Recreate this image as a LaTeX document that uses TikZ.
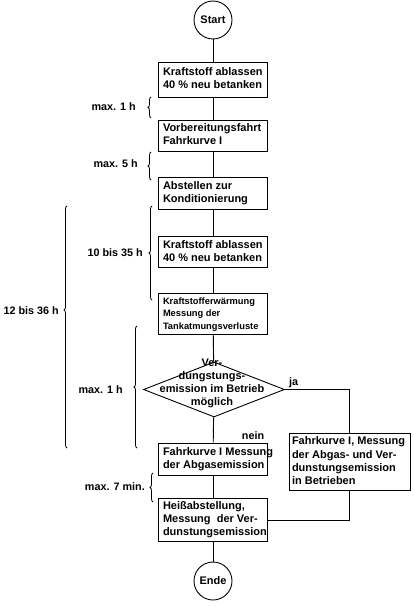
\documentclass[tikz,border=0pt]{standalone}
\usepackage{fontspec}
\setmainfont{Liberation Sans}
\usetikzlibrary{shapes.geometric,decorations.pathreplacing}
\newcommand{\boxlines}[2][100pt]{\makebox[#1][l]{\begin{tabular}{@{}l@{}}#2\end{tabular}}}
\begin{document}
\begin{tikzpicture}[x=1pt,y=-1pt,
  every node/.style={font=\bfseries\fontsize{10.8}{13}\selectfont},
  boxfont/.style={font=\bfseries\fontsize{11}{13.2}\selectfont},
  box/.style={draw, line width=0.9pt, rectangle, inner xsep=4.5pt, inner ysep=2pt, boxfont},
  term/.style={draw, line width=0.9pt, circle, minimum size=38pt, inner sep=0pt, boxfont},
  conn/.style={line width=0.9pt},
  lbl/.style={anchor=east, inner sep=0pt},
  brc/.style={decorate, decoration={brace, amplitude=3pt}, line width=0.8pt}]
\useasboundingbox (0,0) rectangle (413,607);
% main column
\node[term] (start) at (213,20) {Start};
\node[box, minimum height=35pt] (b1) at (213,79.5) {\boxlines{Kraftstoff ablassen\\40 \% neu betanken}};
\node[box, minimum height=31pt] (b2) at (213,135.5) {\boxlines{Vorbereitungsfahrt\\Fahrkurve I}};
\node[box, minimum height=32pt] (b3) at (213,193) {\boxlines{Abstellen zur\\Konditionierung}};
\node[box, minimum height=30pt] (b4) at (213,252) {\boxlines{Kraftstoff ablassen\\40 \% neu betanken}};
\node[box, minimum height=40pt, font=\bfseries\fontsize{9.3}{12.5}\selectfont] (b5) at (213,314) {\boxlines{Kraftstofferwärmung\\Messung der\\Tankatmungsverluste}};
\node[draw, diamond, line width=0.9pt, minimum width=141pt, minimum height=55pt, inner sep=0pt] (d) at (214,389.5) {};
\node[align=center, inner sep=0pt, font=\bfseries\fontsize{11}{13}\selectfont] (dt) at (212,383.5) {Ver-\\dungstungs-\\emission im Betrieb\\möglich};
\node[box, minimum height=32pt] (f1) at (213,459) {\boxlines{Fahrkurve I Messung\\der Abgasemission}};
\node[box, minimum height=40pt] (b6) at (213,520) {\boxlines{Heißabstellung,\\Messung\ \ der Ver-\\dunstungsemission}};
\node[term] (ende) at (213,581) {Ende};
\node[box, inner xsep=3pt, minimum height=56pt] (r) at (349.5,462) {\boxlines[115pt]{Fahrkurve I, Messung\\der Abgas- und Ver-\\dunstungsemission\\in Betrieben}};
% connectors
\draw[conn] (start) -- (b1);
\draw[conn] (b1) -- (b2);
\draw[conn] (b2) -- (b3);
\draw[conn] (b3) -- (b4);
\draw[conn] (b4) -- (b5);
\draw[conn] (b5) -- (d);
\draw[conn] (d) -- (f1);
\draw[conn] (f1) -- (b6);
\draw[conn] (b6) -- (ende);
\draw[conn] (d.east) -| (r.north);
\draw[conn] (r.south) |- (b6.east);
\node[anchor=south west, inner sep=1pt] (ja) at ([xshift=3pt,yshift=1pt]d.east) {ja};
\node (nein) at (253,436) {nein};
% time braces
\draw[brc] (151,118) -- (151,97);
\node[lbl] (t1) at (136,107) {max. 1 h};
\draw[brc] (151,180) -- (151,152);
\node[lbl] (t2) at (138,164) {max. 5 h};
\draw[brc] (152,300) -- (152,206);
\node[lbl] (t3) at (143,253) {10 bis 35 h};
\draw[line width=0.8pt, decorate, decoration={brace, amplitude=3pt, aspect=0.57}] (67,448) -- (67,206);
\node[lbl] (t4) at (59,311) {12 bis 36 h};
\draw[brc] (137,448) -- (137,326);
\node[lbl] (t5) at (123,390) {max. 1 h};
\draw[brc] (153,502) -- (153,473);
\node[lbl] (t6) at (145,487) {max. 7 min.};
\end{tikzpicture}
\end{document}
